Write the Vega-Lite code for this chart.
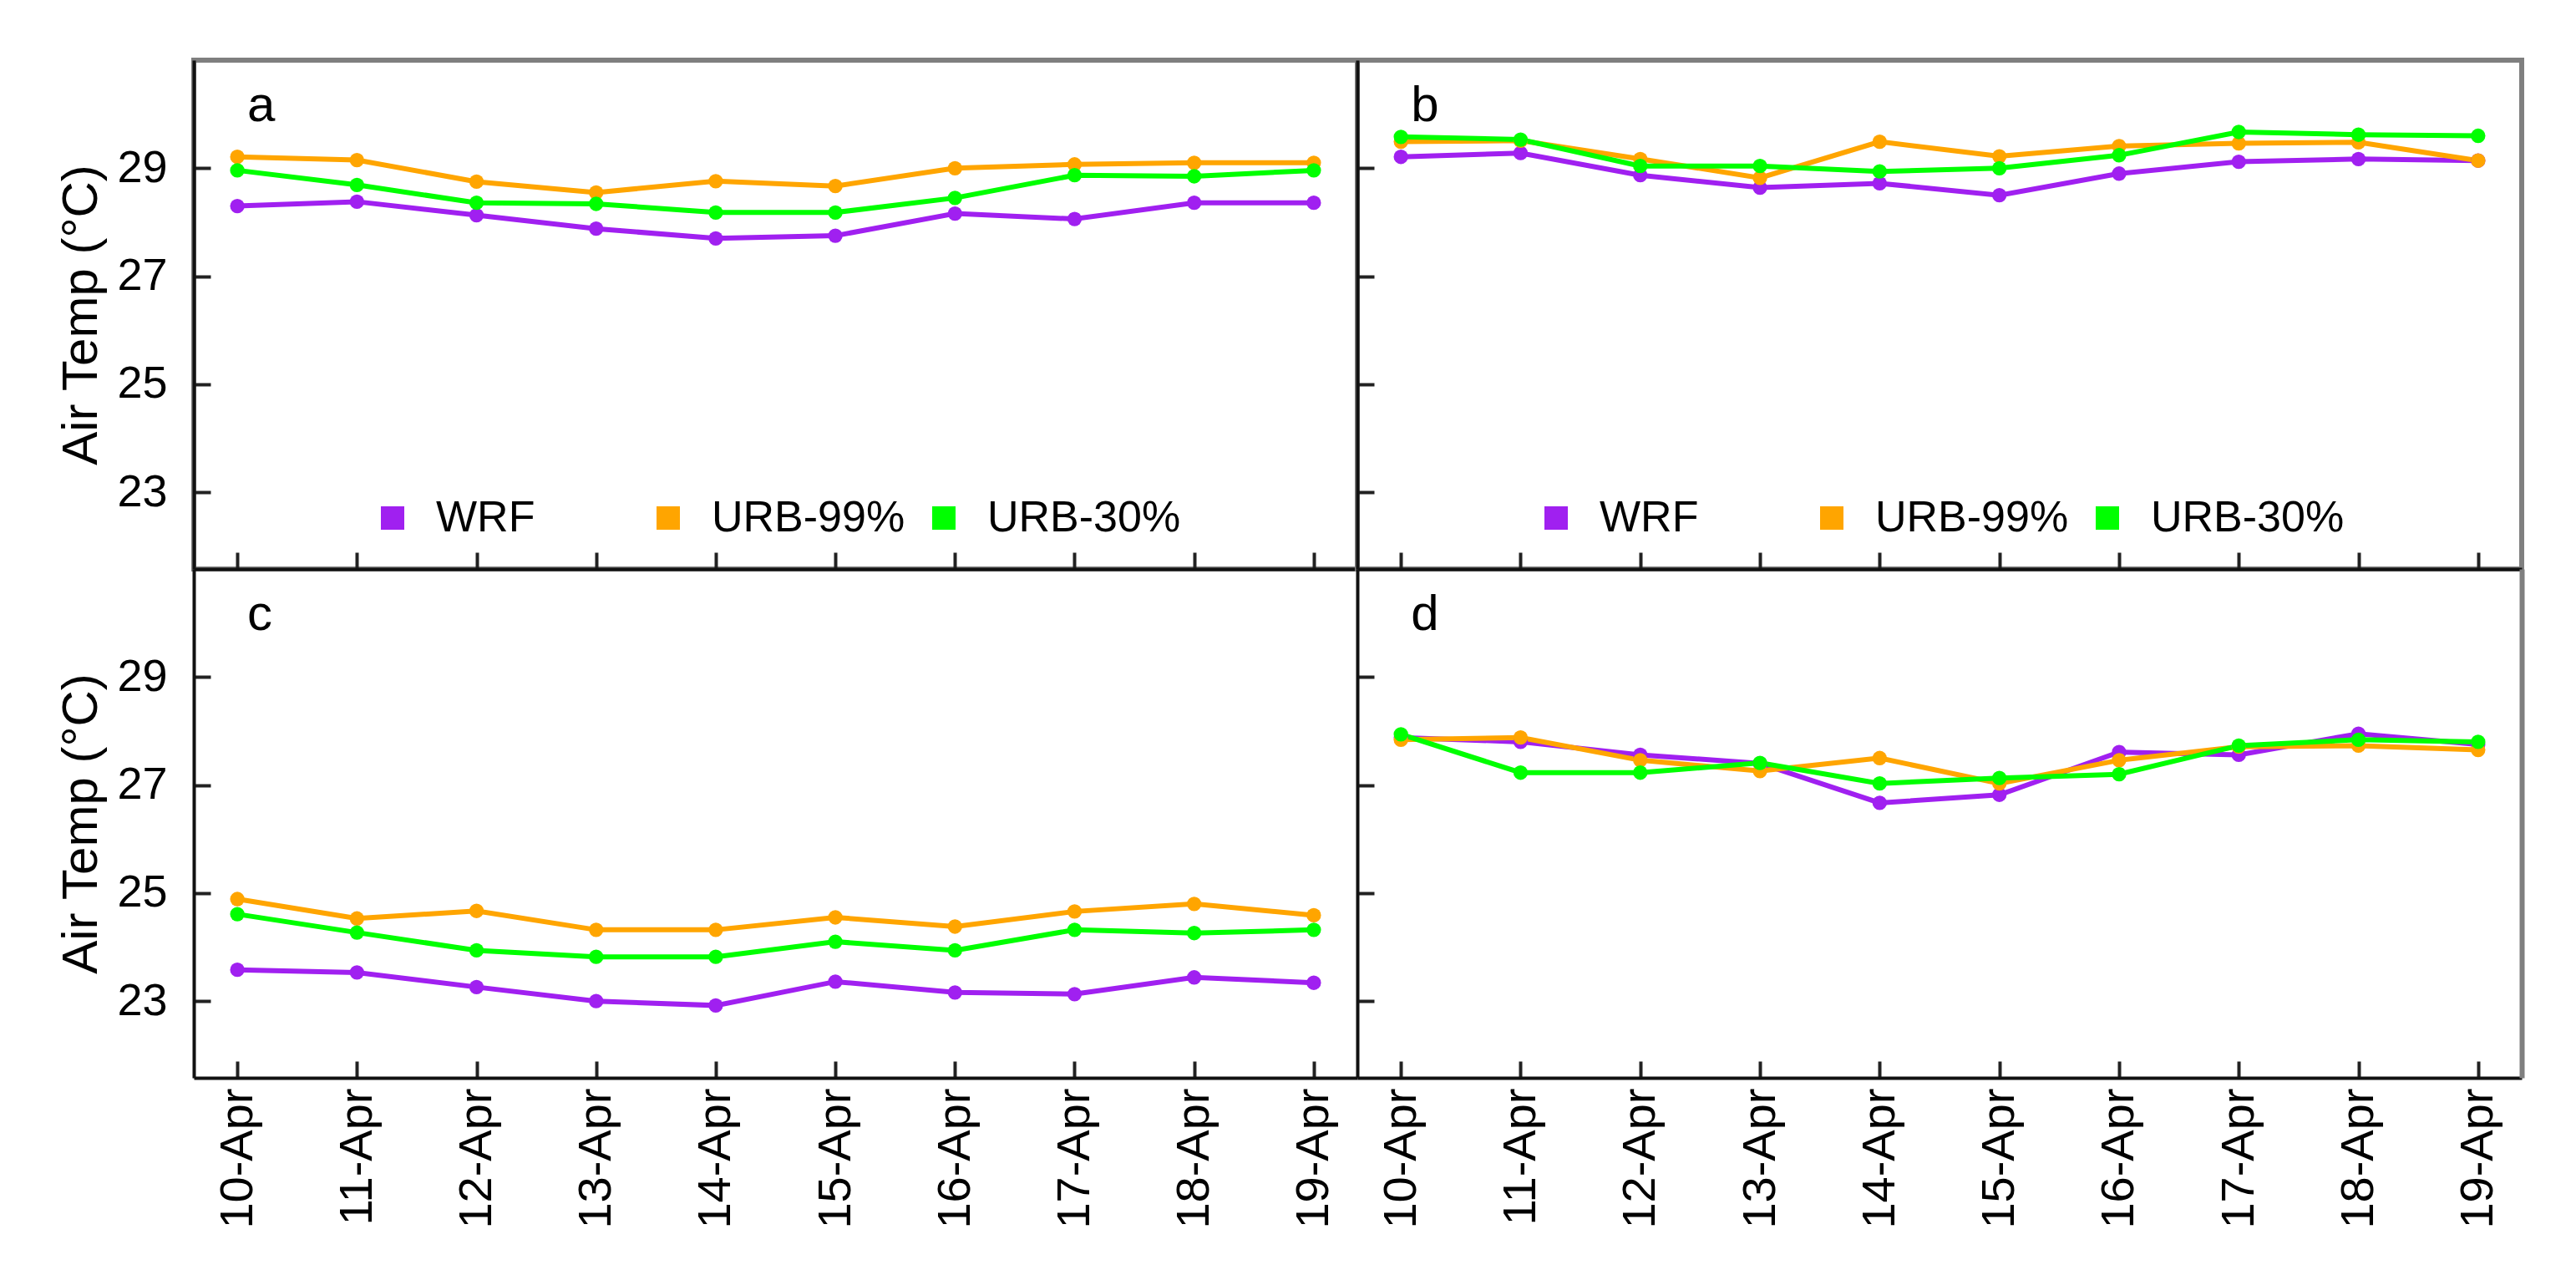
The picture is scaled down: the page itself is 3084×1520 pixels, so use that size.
{
  "$schema": "https://vega.github.io/schema/vega-lite/v6.json",
  "padding": {"left": 64, "top": 69, "right": 10, "bottom": 5},
  "background": "white",
  "datasets": {
    "d": [
      {"panel":"a","series":"WRF","date":"10-Apr","value":28.30},
      {"panel":"a","series":"WRF","date":"11-Apr","value":28.38},
      {"panel":"a","series":"WRF","date":"12-Apr","value":28.13},
      {"panel":"a","series":"WRF","date":"13-Apr","value":27.88},
      {"panel":"a","series":"WRF","date":"14-Apr","value":27.70},
      {"panel":"a","series":"WRF","date":"15-Apr","value":27.75},
      {"panel":"a","series":"WRF","date":"16-Apr","value":28.16},
      {"panel":"a","series":"WRF","date":"17-Apr","value":28.06},
      {"panel":"a","series":"WRF","date":"18-Apr","value":28.36},
      {"panel":"a","series":"WRF","date":"19-Apr","value":28.36},
      {"panel":"a","series":"URB-99%","date":"10-Apr","value":29.21},
      {"panel":"a","series":"URB-99%","date":"11-Apr","value":29.15},
      {"panel":"a","series":"URB-99%","date":"12-Apr","value":28.75},
      {"panel":"a","series":"URB-99%","date":"13-Apr","value":28.55},
      {"panel":"a","series":"URB-99%","date":"14-Apr","value":28.76},
      {"panel":"a","series":"URB-99%","date":"15-Apr","value":28.67},
      {"panel":"a","series":"URB-99%","date":"16-Apr","value":29.00},
      {"panel":"a","series":"URB-99%","date":"17-Apr","value":29.07},
      {"panel":"a","series":"URB-99%","date":"18-Apr","value":29.10},
      {"panel":"a","series":"URB-99%","date":"19-Apr","value":29.10},
      {"panel":"a","series":"URB-30%","date":"10-Apr","value":28.96},
      {"panel":"a","series":"URB-30%","date":"11-Apr","value":28.69},
      {"panel":"a","series":"URB-30%","date":"12-Apr","value":28.36},
      {"panel":"a","series":"URB-30%","date":"13-Apr","value":28.34},
      {"panel":"a","series":"URB-30%","date":"14-Apr","value":28.18},
      {"panel":"a","series":"URB-30%","date":"15-Apr","value":28.18},
      {"panel":"a","series":"URB-30%","date":"16-Apr","value":28.45},
      {"panel":"a","series":"URB-30%","date":"17-Apr","value":28.87},
      {"panel":"a","series":"URB-30%","date":"18-Apr","value":28.85},
      {"panel":"a","series":"URB-30%","date":"19-Apr","value":28.96},
      {"panel":"b","series":"WRF","date":"10-Apr","value":29.21},
      {"panel":"b","series":"WRF","date":"11-Apr","value":29.28},
      {"panel":"b","series":"WRF","date":"12-Apr","value":28.87},
      {"panel":"b","series":"WRF","date":"13-Apr","value":28.64},
      {"panel":"b","series":"WRF","date":"14-Apr","value":28.72},
      {"panel":"b","series":"WRF","date":"15-Apr","value":28.50},
      {"panel":"b","series":"WRF","date":"16-Apr","value":28.90},
      {"panel":"b","series":"WRF","date":"17-Apr","value":29.12},
      {"panel":"b","series":"WRF","date":"18-Apr","value":29.17},
      {"panel":"b","series":"WRF","date":"19-Apr","value":29.14},
      {"panel":"b","series":"URB-99%","date":"10-Apr","value":29.49},
      {"panel":"b","series":"URB-99%","date":"11-Apr","value":29.51},
      {"panel":"b","series":"URB-99%","date":"12-Apr","value":29.17},
      {"panel":"b","series":"URB-99%","date":"13-Apr","value":28.82},
      {"panel":"b","series":"URB-99%","date":"14-Apr","value":29.49},
      {"panel":"b","series":"URB-99%","date":"15-Apr","value":29.22},
      {"panel":"b","series":"URB-99%","date":"16-Apr","value":29.41},
      {"panel":"b","series":"URB-99%","date":"17-Apr","value":29.46},
      {"panel":"b","series":"URB-99%","date":"18-Apr","value":29.48},
      {"panel":"b","series":"URB-99%","date":"19-Apr","value":29.14},
      {"panel":"b","series":"URB-30%","date":"10-Apr","value":29.58},
      {"panel":"b","series":"URB-30%","date":"11-Apr","value":29.53},
      {"panel":"b","series":"URB-30%","date":"12-Apr","value":29.04},
      {"panel":"b","series":"URB-30%","date":"13-Apr","value":29.04},
      {"panel":"b","series":"URB-30%","date":"14-Apr","value":28.94},
      {"panel":"b","series":"URB-30%","date":"15-Apr","value":29.00},
      {"panel":"b","series":"URB-30%","date":"16-Apr","value":29.24},
      {"panel":"b","series":"URB-30%","date":"17-Apr","value":29.67},
      {"panel":"b","series":"URB-30%","date":"18-Apr","value":29.62},
      {"panel":"b","series":"URB-30%","date":"19-Apr","value":29.60},
      {"panel":"c","series":"WRF","date":"10-Apr","value":23.58},
      {"panel":"c","series":"WRF","date":"11-Apr","value":23.53},
      {"panel":"c","series":"WRF","date":"12-Apr","value":23.26},
      {"panel":"c","series":"WRF","date":"13-Apr","value":23.00},
      {"panel":"c","series":"WRF","date":"14-Apr","value":22.92},
      {"panel":"c","series":"WRF","date":"15-Apr","value":23.36},
      {"panel":"c","series":"WRF","date":"16-Apr","value":23.16},
      {"panel":"c","series":"WRF","date":"17-Apr","value":23.13},
      {"panel":"c","series":"WRF","date":"18-Apr","value":23.44},
      {"panel":"c","series":"WRF","date":"19-Apr","value":23.34},
      {"panel":"c","series":"URB-99%","date":"10-Apr","value":24.89},
      {"panel":"c","series":"URB-99%","date":"11-Apr","value":24.53},
      {"panel":"c","series":"URB-99%","date":"12-Apr","value":24.67},
      {"panel":"c","series":"URB-99%","date":"13-Apr","value":24.32},
      {"panel":"c","series":"URB-99%","date":"14-Apr","value":24.32},
      {"panel":"c","series":"URB-99%","date":"15-Apr","value":24.55},
      {"panel":"c","series":"URB-99%","date":"16-Apr","value":24.38},
      {"panel":"c","series":"URB-99%","date":"17-Apr","value":24.66},
      {"panel":"c","series":"URB-99%","date":"18-Apr","value":24.80},
      {"panel":"c","series":"URB-99%","date":"19-Apr","value":24.59},
      {"panel":"c","series":"URB-30%","date":"10-Apr","value":24.61},
      {"panel":"c","series":"URB-30%","date":"11-Apr","value":24.27},
      {"panel":"c","series":"URB-30%","date":"12-Apr","value":23.94},
      {"panel":"c","series":"URB-30%","date":"13-Apr","value":23.82},
      {"panel":"c","series":"URB-30%","date":"14-Apr","value":23.82},
      {"panel":"c","series":"URB-30%","date":"15-Apr","value":24.10},
      {"panel":"c","series":"URB-30%","date":"16-Apr","value":23.94},
      {"panel":"c","series":"URB-30%","date":"17-Apr","value":24.32},
      {"panel":"c","series":"URB-30%","date":"18-Apr","value":24.26},
      {"panel":"c","series":"URB-30%","date":"19-Apr","value":24.32},
      {"panel":"d","series":"WRF","date":"10-Apr","value":27.88},
      {"panel":"d","series":"WRF","date":"11-Apr","value":27.80},
      {"panel":"d","series":"WRF","date":"12-Apr","value":27.56},
      {"panel":"d","series":"WRF","date":"13-Apr","value":27.40},
      {"panel":"d","series":"WRF","date":"14-Apr","value":26.67},
      {"panel":"d","series":"WRF","date":"15-Apr","value":26.82},
      {"panel":"d","series":"WRF","date":"16-Apr","value":27.61},
      {"panel":"d","series":"WRF","date":"17-Apr","value":27.56},
      {"panel":"d","series":"WRF","date":"18-Apr","value":27.95},
      {"panel":"d","series":"WRF","date":"19-Apr","value":27.75},
      {"panel":"d","series":"URB-99%","date":"10-Apr","value":27.84},
      {"panel":"d","series":"URB-99%","date":"11-Apr","value":27.88},
      {"panel":"d","series":"URB-99%","date":"12-Apr","value":27.46},
      {"panel":"d","series":"URB-99%","date":"13-Apr","value":27.26},
      {"panel":"d","series":"URB-99%","date":"14-Apr","value":27.50},
      {"panel":"d","series":"URB-99%","date":"15-Apr","value":27.03},
      {"panel":"d","series":"URB-99%","date":"16-Apr","value":27.46},
      {"panel":"d","series":"URB-99%","date":"17-Apr","value":27.71},
      {"panel":"d","series":"URB-99%","date":"18-Apr","value":27.73},
      {"panel":"d","series":"URB-99%","date":"19-Apr","value":27.65},
      {"panel":"d","series":"URB-30%","date":"10-Apr","value":27.94},
      {"panel":"d","series":"URB-30%","date":"11-Apr","value":27.23},
      {"panel":"d","series":"URB-30%","date":"12-Apr","value":27.23},
      {"panel":"d","series":"URB-30%","date":"13-Apr","value":27.41},
      {"panel":"d","series":"URB-30%","date":"14-Apr","value":27.03},
      {"panel":"d","series":"URB-30%","date":"15-Apr","value":27.13},
      {"panel":"d","series":"URB-30%","date":"16-Apr","value":27.20},
      {"panel":"d","series":"URB-30%","date":"17-Apr","value":27.73},
      {"panel":"d","series":"URB-30%","date":"18-Apr","value":27.84},
      {"panel":"d","series":"URB-30%","date":"19-Apr","value":27.80}
    ]
  },
  "columns": 2,
  "spacing": 0,
  "bounds": "flush",
  "resolve": {"scale": {"color": "independent"}, "legend": {"color": "independent"}},
  "concat": [
    {
      "width": 1393, "height": 609,
      "data": {"name": "d"},
      "transform": [{"filter": "datum.panel === 'a'"}],
      "encoding": {
        "x": {"field": "date", "type": "ordinal", "sort": ["10-Apr","11-Apr","12-Apr","13-Apr","14-Apr","15-Apr","16-Apr","17-Apr","18-Apr","19-Apr"], "scale": {"type": "point", "padding": 0.364},
              "axis": {"title": null, "labels": false, "tickSize": -20, "tickWidth": 4, "tickColor": "#222", "domainColor": "#111", "domainWidth": 4, "grid": false}},
        "color": {"field": "series", "type": "nominal", "scale": {"domain": ["WRF", "URB-99%", "URB-30%"], "range": ["#A020F0", "#FFA500", "#00FF00"]},
                  "legend": {"orient": "none", "legendX": 212, "legendY": 522, "direction": "horizontal", "columns": 3, "gridAlign": "all", "columnPadding": 20, "symbolType": "square", "symbolSize": 784, "labelOffset": 26, "labelFontSize": 52, "labelLimit": 500, "labelFont": "Liberation Sans", "labelColor": "black", "title": null, "padding": 0, "symbolStrokeWidth": 0, "symbolOpacity": 1}}
      },
      "layer": [
        {"mark": {"type": "line", "strokeWidth": 6},
         "encoding": {"y": {"field": "value", "type": "quantitative", "scale": {"domain": [21.58, 31.0], "nice": false, "zero": false},
              "axis": {"values": [23, 25, 27, 29], "format": "d", "title": "Air Temp (°C)", "titleFont": "Liberation Sans", "titleFontSize": 60, "titleFontWeight": "normal", "titleColor": "black", "titleX": -117, "titleY": 304.5, "titleAngle": 270, "titleAlign": "center", "titleBaseline": "alphabetic",
                       "labelFont": "Liberation Sans", "labelFontSize": 54, "labelColor": "black", "labelPadding": 52, "tickSize": -20, "tickWidth": 4, "tickColor": "#222", "domainColor": "#111", "domainWidth": 4, "grid": false}}}},
        {"mark": {"type": "point", "filled": true, "shape": "circle", "size": 300, "opacity": 1},
         "encoding": {"y": {"field": "value", "type": "quantitative"}}},
        {"data": {"values": [{"panel": "a", "lab": "a"}]},
         "mark": {"type": "text", "align": "left", "baseline": "alphabetic", "dx": 12, "fontSize": 60, "font": "Liberation Sans", "color": "black"},
         "encoding": {"x": {"datum": "10-Apr"}, "y": {"datum": 29.87}, "text": {"field": "lab"}, "color": {"value": "black"}}}
      ]
    },
    {
      "width": 1394, "height": 609,
      "data": {"name": "d"},
      "transform": [{"filter": "datum.panel === 'b'"}],
      "encoding": {
        "x": {"field": "date", "type": "ordinal", "sort": ["10-Apr","11-Apr","12-Apr","13-Apr","14-Apr","15-Apr","16-Apr","17-Apr","18-Apr","19-Apr"], "scale": {"type": "point", "padding": 0.364},
              "axis": {"title": null, "labels": false, "tickSize": -20, "tickWidth": 4, "tickColor": "#222", "domainColor": "#111", "domainWidth": 4, "grid": false}},
        "color": {"field": "series", "type": "nominal", "scale": {"domain": ["WRF", "URB-99%", "URB-30%"], "range": ["#A020F0", "#FFA500", "#00FF00"]},
                  "legend": {"orient": "none", "legendX": 212, "legendY": 522, "direction": "horizontal", "columns": 3, "gridAlign": "all", "columnPadding": 20, "symbolType": "square", "symbolSize": 784, "labelOffset": 26, "labelFontSize": 52, "labelLimit": 500, "labelFont": "Liberation Sans", "labelColor": "black", "title": null, "padding": 0, "symbolStrokeWidth": 0, "symbolOpacity": 1}}
      },
      "layer": [
        {"mark": {"type": "line", "strokeWidth": 6},
         "encoding": {"y": {"field": "value", "type": "quantitative", "scale": {"domain": [21.58, 31.0], "nice": false, "zero": false},
              "axis": {"values": [23, 25, 27, 29], "format": "d", "title": null, "labels": false, "tickSize": -20, "tickWidth": 4, "tickColor": "#222", "domainColor": "#111", "domainWidth": 4, "grid": false}}}},
        {"mark": {"type": "point", "filled": true, "shape": "circle", "size": 300, "opacity": 1},
         "encoding": {"y": {"field": "value", "type": "quantitative"}}},
        {"data": {"values": [{"panel": "b", "lab": "b"}]},
         "mark": {"type": "text", "align": "left", "baseline": "alphabetic", "dx": 12, "fontSize": 60, "font": "Liberation Sans", "color": "black"},
         "encoding": {"x": {"datum": "10-Apr"}, "y": {"datum": 29.87}, "text": {"field": "lab"}, "color": {"value": "black"}}}
      ]
    },
    {
      "width": 1393, "height": 609,
      "view": {"stroke": null},
      "data": {"name": "d"},
      "transform": [{"filter": "datum.panel === 'c'"}],
      "encoding": {
        "x": {"field": "date", "type": "ordinal", "sort": ["10-Apr","11-Apr","12-Apr","13-Apr","14-Apr","15-Apr","16-Apr","17-Apr","18-Apr","19-Apr"], "scale": {"type": "point", "padding": 0.364},
              "axis": {"title": null, "labelAngle": 270, "labelAlign": "right", "labelBaseline": "middle", "labelFont": "Liberation Sans", "labelFontSize": 56, "labelColor": "black", "labelPadding": 32, "tickSize": -20, "tickWidth": 4, "tickColor": "#222", "domainColor": "#111", "domainWidth": 4, "grid": false}},
        "color": {"field": "series", "type": "nominal", "scale": {"domain": ["WRF", "URB-99%", "URB-30%"], "range": ["#A020F0", "#FFA500", "#00FF00"]}, "legend": null}
      },
      "layer": [
        {"mark": {"type": "line", "strokeWidth": 6},
         "encoding": {"y": {"field": "value", "type": "quantitative", "scale": {"domain": [21.58, 31.0], "nice": false, "zero": false},
              "axis": {"values": [23, 25, 27, 29], "format": "d", "title": "Air Temp (°C)", "titleFont": "Liberation Sans", "titleFontSize": 60, "titleFontWeight": "normal", "titleColor": "black", "titleX": -117, "titleY": 304.5, "titleAngle": 270, "titleAlign": "center", "titleBaseline": "alphabetic",
                       "labelFont": "Liberation Sans", "labelFontSize": 54, "labelColor": "black", "labelPadding": 52, "tickSize": -20, "tickWidth": 4, "tickColor": "#222", "domainColor": "#111", "domainWidth": 4, "grid": false}}}},
        {"mark": {"type": "point", "filled": true, "shape": "circle", "size": 300, "opacity": 1},
         "encoding": {"y": {"field": "value", "type": "quantitative"}}},
        {"data": {"values": [{"panel": "c", "lab": "c"}]},
         "mark": {"type": "text", "align": "left", "baseline": "alphabetic", "dx": 12, "fontSize": 60, "font": "Liberation Sans", "color": "black"},
         "encoding": {"x": {"datum": "10-Apr"}, "y": {"datum": 29.87}, "text": {"field": "lab"}, "color": {"value": "black"}}}
      ]
    },
    {
      "width": 1394, "height": 609,
      "view": {"stroke": null},
      "data": {"name": "d"},
      "transform": [{"filter": "datum.panel === 'd'"}],
      "encoding": {
        "x": {"field": "date", "type": "ordinal", "sort": ["10-Apr","11-Apr","12-Apr","13-Apr","14-Apr","15-Apr","16-Apr","17-Apr","18-Apr","19-Apr"], "scale": {"type": "point", "padding": 0.364},
              "axis": {"title": null, "labelAngle": 270, "labelAlign": "right", "labelBaseline": "middle", "labelFont": "Liberation Sans", "labelFontSize": 56, "labelColor": "black", "labelPadding": 32, "tickSize": -20, "tickWidth": 4, "tickColor": "#222", "domainColor": "#111", "domainWidth": 4, "grid": false}},
        "color": {"field": "series", "type": "nominal", "scale": {"domain": ["WRF", "URB-99%", "URB-30%"], "range": ["#A020F0", "#FFA500", "#00FF00"]}, "legend": null}
      },
      "layer": [
        {"mark": {"type": "line", "strokeWidth": 6},
         "encoding": {"y": {"field": "value", "type": "quantitative", "scale": {"domain": [21.58, 31.0], "nice": false, "zero": false},
              "axis": {"values": [23, 25, 27, 29], "format": "d", "title": null, "labels": false, "tickSize": -20, "tickWidth": 4, "tickColor": "#222", "domainColor": "#111", "domainWidth": 4, "grid": false}}}},
        {"mark": {"type": "point", "filled": true, "shape": "circle", "size": 300, "opacity": 1},
         "encoding": {"y": {"field": "value", "type": "quantitative",
              "axis": {"orient": "right", "title": null, "labels": false, "ticks": false, "domainColor": "#7f7f7f", "domainWidth": 6, "grid": false}}}},
        {"data": {"values": [{"panel": "d", "lab": "d"}]},
         "mark": {"type": "text", "align": "left", "baseline": "alphabetic", "dx": 12, "fontSize": 60, "font": "Liberation Sans", "color": "black"},
         "encoding": {"x": {"datum": "10-Apr"}, "y": {"datum": 29.87, "axis": null}, "text": {"field": "lab"}, "color": {"value": "black"}}}
      ],
      "resolve": {"axis": {"y": "independent"}}
    }
  ],
  "config": {
    "view": {"stroke": "#7f7f7f", "strokeWidth": 6},
    "axis": {"labelFont": "Liberation Sans", "titleFont": "Liberation Sans"},
    "legend": {"labelFont": "Liberation Sans"}
  }
}
